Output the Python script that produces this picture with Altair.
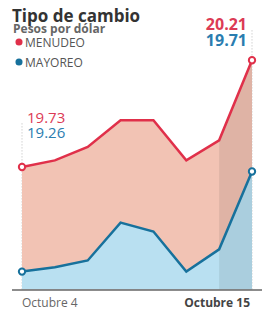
import altair as alt
import pandas as pd

# ---- data ----
days = ["4 oct", "5 oct", "8 oct", "9 oct", "10 oct", "11 oct", "12 oct", "15 oct"]
menudeo = [19.73, 19.76, 19.82, 19.94, 19.94, 19.76, 19.85, 20.21]
mayoreo = [19.26, 19.28, 19.31, 19.48, 19.44, 19.26, 19.36, 19.71]
axis_labels = ["Octubre 4", "Octubre 15"]
title_text = ["Tipo de cambio"]
subtitle_text = ["Pesos por dólar"]
series_names = ["MENUDEO", "MAYOREO"]

RED = "#e0304a"
RED_TXT = "#dc3b55"
BLUE = "#17719c"
BLUE_TXT = "#2a7db0"
RED_FILL = "#f2c3b4"
BLUE_FILL = "#b9e0f1"
Y_MIN, Y_MAX = 19.18, 20.30
FONT = "Open Sans"

n = len(days)
df = pd.DataFrame({"i": list(range(n)), "day": days, "menudeo": menudeo,
                   "mayoreo": mayoreo, "base": [Y_MIN] * n})

W, H = 257, 303
xs = alt.Scale(domain=[0, n - 1], range=[14, 244])
ys = alt.Scale(domain=[Y_MIN, Y_MAX], range=[281.4, 32.2])
X = alt.X("i:Q", scale=xs, axis=None)

def Y(f):
    return alt.Y(f"{f}:Q", scale=ys, axis=None)

base = alt.Chart(df)
first = base.transform_filter("datum.i == 0")
last = base.transform_filter(f"datum.i == {n-1}")

left_rule = first.mark_rule(color="#bbbbbb", strokeWidth=1, strokeDash=[1, 2]).encode(
    x=X, y=Y("base"), y2=alt.value(114))
right_rule = last.mark_rule(color="#bbbbbb", strokeWidth=1, strokeDash=[1, 2]).encode(
    x=X, y=Y("base"), y2=alt.value(22))

red_area = base.mark_area(color=RED_FILL, opacity=1).encode(x=X, y=Y("menudeo"), y2="base:Q")
blue_area = base.mark_area(color=BLUE_FILL, opacity=1).encode(x=X, y=Y("mayoreo"), y2="base:Q")
band = base.transform_filter(f"datum.i >= {n-2}").mark_area(color="#000000", opacity=0.08).encode(
    x=X, y=Y("menudeo"), y2="base:Q")

red_line = base.mark_line(color=RED, strokeWidth=2.5).encode(x=X, y=Y("menudeo"))
blue_line = base.mark_line(color=BLUE, strokeWidth=2.5).encode(x=X, y=Y("mayoreo"))

ends = base.transform_filter(f"datum.i == 0 || datum.i == {n-1}")
red_pts = ends.mark_point(shape="circle", filled=True, fill="white", stroke=RED,
                          strokeWidth=2, size=40, opacity=1).encode(x=X, y=Y("menudeo"))
blue_pts = ends.mark_point(shape="circle", filled=True, fill="white", stroke=BLUE,
                           strokeWidth=2, size=40, opacity=1).encode(x=X, y=Y("mayoreo"))

lab_l_red = first.mark_text(align="left", baseline="alphabetic", dx=5, font=FONT,
                            fontSize=15, color=RED_TXT).encode(
    x=X, y=alt.value(115), text=alt.Text("menudeo:Q", format=".2f"))
lab_l_blue = first.mark_text(align="left", baseline="alphabetic", dx=5, font=FONT,
                             fontSize=15, color=BLUE_TXT).encode(
    x=X, y=alt.value(130), text=alt.Text("mayoreo:Q", format=".2f"))
lab_r_red = last.mark_text(align="right", baseline="alphabetic", dx=-5, font=FONT,
                           fontSize=16, fontWeight="bold", color=RED_TXT).encode(
    x=X, y=alt.value(22), text=alt.Text("menudeo:Q", format=".2f"))
lab_r_blue = last.mark_text(align="right", baseline="alphabetic", dx=-5, font=FONT,
                            fontSize=16, fontWeight="bold", color=BLUE_TXT).encode(
    x=X, y=alt.value(38), text=alt.Text("mayoreo:Q", format=".2f"))

axis_line = alt.Chart(pd.DataFrame({"a": [0]})).mark_rule(color="#666666", strokeWidth=1.5).encode(
    x=alt.value(4), x2=alt.value(254), y=alt.value(282))

ax_df = pd.DataFrame({"i": [0, n - 1], "lab": axis_labels})
ax_left = alt.Chart(ax_df).transform_filter("datum.i == 0").mark_text(
    align="left", baseline="alphabetic", font=FONT, fontSize=12, color="#666666").encode(
    x=X, y=alt.value(299), text="lab:N")
ax_right = alt.Chart(ax_df).transform_filter(f"datum.i == {n-1}").mark_text(
    align="right", baseline="alphabetic", dx=-2, font=FONT, fontSize=12, fontWeight="bold",
    color="#444444").encode(x=X, y=alt.value(299), text="lab:N")

title = alt.Chart(pd.DataFrame({"t": title_text})).mark_text(
    align="left", baseline="alphabetic", font=FONT, fontSize=17, fontWeight="bold",
    color="#333333").encode(x=alt.value(4), y=alt.value(14), text="t:N")
subtitle = alt.Chart(pd.DataFrame({"t": subtitle_text})).mark_text(
    align="left", baseline="alphabetic", font=FONT, fontSize=12, fontWeight="bold",
    color="#666666").encode(x=alt.value(5), y=alt.value(25), text="t:N")

leg_df = pd.DataFrame({"name": series_names, "k": [0, 1]})
leg_scale = alt.Scale(domain=series_names, range=[RED, BLUE])
leg_dots = alt.Chart(leg_df).mark_circle(size=50, opacity=1).encode(
    x=alt.value(11),
    y=alt.Y("k:Q", scale=alt.Scale(domain=[0, 1], range=[34, 54]), axis=None),
    color=alt.Color("name:N", scale=leg_scale, legend=None))
leg_txt = alt.Chart(leg_df).mark_text(align="left", baseline="alphabetic", font=FONT,
                                      fontSize=12, color="#555555").encode(
    x=alt.value(17),
    y=alt.Y("k:Q", scale=alt.Scale(domain=[0, 1], range=[38.5, 58.5]), axis=None),
    text="name:N")

chart = alt.layer(
    left_rule, right_rule, red_area, blue_area, band, red_line, blue_line,
    red_pts, blue_pts, lab_l_red, lab_l_blue, lab_r_red, lab_r_blue,
    axis_line, ax_left, ax_right, title, subtitle, leg_dots, leg_txt
).resolve_scale(y="independent").properties(
    width=W, height=H, autosize=alt.AutoSizeParams(type="none"), padding=0,
    background="white"
).configure_view(stroke=None)

chart.save("out.html", embed_options={"renderer": "svg", "actions": False})
